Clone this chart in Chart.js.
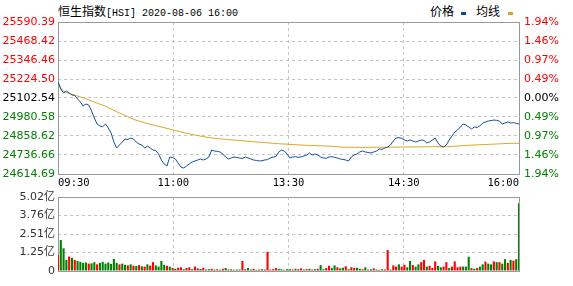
<!DOCTYPE html>
<html>
<head>
<meta charset="utf-8">
<script src="https://cdn.jsdelivr.net/npm/chart.js@4.4.0/dist/chart.umd.min.js"></script>
<style>
  body { margin: 0; width: 573px; height: 286px; background: #fff; position: relative; overflow: hidden; }
  canvas { position: absolute; left: 0; }
  .txt { position: absolute; top: 2px; line-height: 16px; color: #000; white-space: nowrap; }
  .cjk { font: 12px 'Noto Sans CJK SC', sans-serif; }
  .mono { font: 10px 'Liberation Mono', monospace; }
  .mark { position: absolute; top: 12px; width: 5px; height: 3px; }
</style>
</head>
<body>
<div class="txt" style="left:58px"><span class="cjk">恒生指数</span><span class="mono">[HSI] 2020-08-06 16:00</span></div>
<div class="txt cjk" style="left:430px">价格</div>
<div class="mark" style="left:461px;background:#0b4a9a"></div>
<div class="txt cjk" style="left:476px">均线</div>
<div class="mark" style="left:508px;background:#d9a31f"></div>
<canvas id="priceChart" width="573" height="192" style="top:0"></canvas>
<canvas id="volChart" width="573" height="100" style="top:186px"></canvas>
<script>
const timeLabels = ['09:30', '11:00', '13:30', '14:30', '16:00'];
const prevClose = 25102.54;
const priceTicks = [24614.69, 24736.66, 24858.62, 24980.58, 25102.54, 25224.50, 25346.46, 25468.42, 25590.39];
const pctLabels = ['1.94%', '1.46%', '0.97%', '0.49%', '0.00%', '0.49%', '0.97%', '1.46%', '1.94%'];
const volTicks = [0, 1.255, 2.51, 3.765, 5.02];
const volLabels = ['0', '1.25亿', '2.51亿', '3.76亿', '5.02亿'];

// 2-minute samples, 09:30 -> 16:00
const price = [
  25205.2, 25160.3, 25134.6, 25147.5, 25134.6, 25121.8, 25118.5, 25096.1, 25076.9, 25051.2,
  25064.0, 25057.6, 25019.1, 24974.1, 24935.6, 24922.8, 24918.2, 24935.6, 24910.0, 24877.9,
  24820.1, 24781.6, 24800.8, 24820.1, 24839.3, 24836.0, 24845.8, 24839.3, 24820.1, 24807.2,
  24800.8, 24781.6, 24794.4, 24781.6, 24768.7, 24765.0, 24743.1, 24704.5, 24678.9, 24666.0,
  24723.8, 24720.5, 24711.0, 24685.3, 24659.6, 24653.2, 24666.0, 24678.9, 24691.7, 24698.1,
  24704.5, 24711.0, 24704.5, 24711.0, 24723.8, 24768.7, 24762.3, 24760.1, 24755.9, 24743.1,
  24723.8, 24711.0, 24717.4, 24723.8, 24721.0, 24717.4, 24714.5, 24723.8, 24717.4, 24711.0,
  24704.5, 24702.0, 24698.1, 24700.3, 24704.5, 24707.2, 24717.4, 24723.8, 24727.0, 24755.9,
  24768.7, 24762.3, 24743.1, 24717.4, 24723.8, 24726.1, 24721.2, 24724.9, 24730.2, 24736.6,
  24749.5, 24736.6, 24743.1, 24736.6, 24723.8, 24717.4, 24715.3, 24723.8, 24726.0, 24721.9,
  24717.4, 24711.0, 24708.4, 24704.5, 24698.1, 24723.8, 24736.6, 24743.1, 24755.9, 24762.3,
  24755.9, 24752.8, 24749.5, 24755.9, 24762.3, 24775.2, 24772.5, 24781.6, 24788.0, 24800.8,
  24826.5, 24845.8, 24848.0, 24843.9, 24832.9, 24826.5, 24832.9, 24826.5, 24820.1, 24826.5,
  24832.9, 24830.1, 24813.7, 24820.1, 24832.9, 24845.8, 24813.7, 24794.4, 24788.0, 24800.8,
  24832.9, 24858.6, 24884.3, 24897.1, 24916.4, 24935.6, 24929.2, 24916.4, 24903.5, 24916.4,
  24913.8, 24922.8, 24942.0, 24948.5, 24954.9, 24957.2, 24961.3, 24959.0, 24954.9, 24935.6,
  24942.0, 24948.5, 24942.0, 24944.6, 24939.8, 24935.6
];
const avgPrice = [
  25205.2, 25166.7, 25147.5, 25137.2, 25132.1, 25126.3, 25121.1, 25115.4, 25110.2, 25103.8,
  25097.4, 25091.0, 25083.3, 25076.2, 25069.8, 25062.7, 25056.3, 25049.3, 25041.6, 25032.6,
  25023.6, 25014.6, 25005.6, 24997.9, 24989.6, 24981.2, 24973.5, 24965.8, 24960.0, 24954.2,
  24949.1, 24944.0, 24938.8, 24934.4, 24929.9, 24925.4, 24920.9, 24916.4, 24911.9, 24907.4,
  24902.9, 24898.4, 24893.9, 24889.4, 24884.9, 24880.4, 24875.9, 24872.7, 24868.9, 24865.0,
  24861.8, 24858.0, 24854.8, 24851.5, 24849.0, 24845.8, 24843.2, 24841.9, 24840.0, 24838.7,
  24836.8, 24835.5, 24834.2, 24832.3, 24831.0, 24829.7, 24827.8, 24826.5, 24824.6, 24823.3,
  24822.0, 24820.1, 24818.8, 24817.5, 24816.2, 24814.9, 24813.0, 24811.7, 24810.5, 24809.2,
  24807.9, 24807.2, 24806.0, 24804.7, 24804.0, 24802.8, 24801.5, 24800.8, 24799.5, 24798.9,
  24798.3, 24797.6, 24797.0, 24796.3, 24795.7, 24795.1, 24794.4, 24793.1, 24792.5, 24791.2,
  24789.9, 24788.6, 24787.4, 24786.7, 24786.1, 24786.1, 24786.0, 24786.0, 24785.9, 24785.9,
  24785.9, 24785.9, 24786.0, 24786.0, 24786.1, 24786.1, 24786.2, 24786.4, 24786.6, 24786.8,
  24787.0, 24787.3, 24787.5, 24787.7, 24787.9, 24788.1, 24788.3, 24788.5, 24788.7, 24788.9,
  24789.1, 24789.3, 24789.6, 24789.9, 24790.0, 24790.0, 24790.1, 24790.1, 24790.2, 24790.3,
  24790.5, 24791.8, 24793.1, 24794.4, 24795.7, 24797.0, 24797.9, 24798.9, 24799.8, 24800.8,
  24801.5, 24802.4, 24803.4, 24804.0, 24804.7, 24805.6, 24806.6, 24807.2, 24808.2, 24809.2,
  24810.1, 24810.8, 24811.1, 24811.4, 24811.7, 24811.7
];
// volume in 亿
const volume = [
  1.08, 2.1, 1.54, 0.75, 0.98, 0.9, 0.75, 0.68, 0.62, 0.55,
  0.58, 0.5, 0.52, 0.6, 0.45, 0.55, 0.62, 0.5, 0.58, 0.48,
  0.82, 0.55, 0.45, 0.5, 0.42, 0.38, 0.45, 0.36, 0.34, 0.4,
  0.32, 0.3, 0.45, 0.36, 0.6, 0.38, 0.3, 0.68, 0.42, 0.35,
  0.3, 0.2, 0.15, 0.22, 0.25, 0.12, 0.2, 0.25, 0.12, 0.3,
  0.18, 0.14, 0.22, 0.1, 0.12, 0.15, 0.1, 0.12, 0.08, 0.15,
  0.2, 0.1, 0.12, 0.08, 0.1, 0.1, 0.68, 0.12, 0.2, 0.1,
  0.15, 0.08, 0.1, 0.12, 0.1, 1.3, 0.1, 0.12, 0.2, 0.15,
  0.12, 0.08, 0.12, 0.12, 0.1, 0.15, 0.12, 0.18, 0.1, 0.12,
  0.15, 0.1, 0.12, 0.15, 0.4, 0.12, 0.2, 0.35, 0.2, 0.38,
  0.25, 0.18, 0.22, 0.32, 0.12, 0.25, 0.2, 0.22, 0.15, 0.12,
  0.25, 0.1, 0.12, 0.18, 0.1, 0.08, 0.12, 0.1, 1.42, 0.1,
  0.38, 0.3, 0.45, 0.3, 0.42, 0.25, 0.68, 0.4, 0.3, 0.45,
  0.6, 0.75, 0.3, 0.35, 0.2, 0.65, 0.35, 0.25, 0.3, 0.6,
  0.2, 0.3, 0.65, 0.25, 0.3, 0.3, 0.3, 0.97, 0.2, 0.15,
  0.2, 0.3, 0.45, 0.63, 0.5, 0.45, 0.65, 0.6, 0.6, 0.5,
  0.8, 0.55, 0.75, 0.7, 0.8, 4.6
];
// R = up bar, G = down bar
const volSide = (
  'RGGGRGRGGG' + 'GRGGRGGGGG' + 'GGRGGRGRGR' + 'GRGRRGGGGR' +
  'GRGRRGRRGR' + 'RGRGGRGRGR' + 'GRGRGGRRGG' + 'RGRGRRRRRG' +
  'GRGGRGRRGR' + 'GRGRGGRRGG' + 'RGGRGRRGGR' + 'GRGRGRGRRG' +
  'RRGRRGGRGG' + 'RRGRRRGGRR' + 'GRRRRGGGRG' + 'RGGRGGRGRG' +
  'GRGRGG'
).split('');

const RED = '#ff0000', GREEN = '#008000';
const last = price.length - 1;
const timePos = timeLabels.map((t, k) => k * last / (timeLabels.length - 1));

Chart.defaults.font.family = "'DejaVu Sans', 'Noto Sans CJK SC', sans-serif";
Chart.defaults.font.size = 11;
Chart.defaults.color = '#000';

const frame = {
  id: 'frame',
  beforeDatasetsDraw(chart) {
    const a = chart.chartArea, c = chart.ctx;
    c.save();
    c.strokeStyle = '#999';
    c.lineWidth = 1;
    c.strokeRect(a.left + 0.5, a.top + 0.5, a.right - a.left, a.bottom - a.top);
    c.restore();
  }
};

function tickColor(v) {
  if (Math.abs(v - prevClose) < 0.01) return '#000';
  return v > prevClose ? RED : GREEN;
}

const dashGrid = { color: '#c4c4c4', lineWidth: 1, drawTicks: false };
const dashBorder = { display: false, dash: [3, 3] };

const xTime = {
  type: 'linear', min: 0, max: last, offset: false,
  grid: Object.assign({ offset: false }, dashGrid),
  border: dashBorder,
  afterBuildTicks: s => { s.ticks = timePos.map(v => ({ value: v })); },
  afterFit: s => { s.height = 18; },
  ticks: {
    autoSkip: false, maxRotation: 0, align: 'inner', padding: 3,
    font: { family: "'DejaVu Sans Mono', monospace", size: 10.5 },
    callback: (v, i) => timeLabels[i]
  }
};

new Chart(document.getElementById('priceChart'), {
  type: 'line',
  data: {
    datasets: [
      {
        label: '价格',
        data: price.map((p, i) => ({ x: i, y: p })),
        borderColor: '#12509e', borderWidth: 1, pointRadius: 0, tension: 0
      },
      {
        label: '均线',
        data: avgPrice.map((p, i) => ({ x: i, y: p })),
        borderColor: '#daa520', borderWidth: 1, pointRadius: 0, tension: 0
      }
    ]
  },
  options: {
    responsive: false, animation: false, devicePixelRatio: 1,
    layout: { padding: { top: 22, left: 0, right: 0, bottom: 0 } },
    plugins: { legend: { display: false }, tooltip: { enabled: false } },
    scales: {
      x: xTime,
      y: {
        type: 'linear', position: 'left',
        min: priceTicks[0], max: priceTicks[priceTicks.length - 1],
        grid: dashGrid, border: dashBorder,
        afterBuildTicks: s => { s.ticks = priceTicks.map(v => ({ value: v })); },
        afterFit: s => { s.width = 58; },
        ticks: {
          autoSkip: false, padding: 3,
          callback: (v, i) => priceTicks[i].toFixed(2),
          color: ctx => tickColor(priceTicks[ctx.index])
        }
      },
      y2: {
        type: 'linear', position: 'right',
        min: priceTicks[0], max: priceTicks[priceTicks.length - 1],
        grid: { display: false, drawTicks: false }, border: { display: false },
        afterBuildTicks: s => { s.ticks = priceTicks.map(v => ({ value: v })); },
        afterFit: s => { s.width = 54; },
        ticks: {
          autoSkip: false, padding: 5,
          callback: (v, i) => pctLabels[i],
          color: ctx => tickColor(priceTicks[ctx.index])
        }
      }
    }
  },
  plugins: [frame]
});

new Chart(document.getElementById('volChart'), {
  type: 'bar',
  data: {
    datasets: [{
      label: '成交量',
      data: volume.map((v, i) => ({ x: i, y: v })),
      backgroundColor: volSide.map(s => s === 'R' ? RED : GREEN),
      borderWidth: 0, barPercentage: 0.75, categoryPercentage: 1
    }]
  },
  options: {
    responsive: false, animation: false, devicePixelRatio: 1,
    layout: { padding: { top: 11, left: 0, right: 54, bottom: 15 } },
    plugins: { legend: { display: false }, tooltip: { enabled: false } },
    scales: {
      x: Object.assign({}, xTime, {
        ticks: { display: false },
        afterFit: s => { s.height = 0; }
      }),
      y: {
        type: 'linear', position: 'left',
        min: 0, max: volTicks[volTicks.length - 1],
        grid: dashGrid, border: dashBorder,
        afterBuildTicks: s => { s.ticks = volTicks.map(v => ({ value: v })); },
        afterFit: s => { s.width = 58; },
        ticks: {
          autoSkip: false, padding: 3, color: '#333',
          callback: (v, i) => volLabels[i]
        }
      }
    }
  },
  plugins: [frame]
});
</script>
</body>
</html>
